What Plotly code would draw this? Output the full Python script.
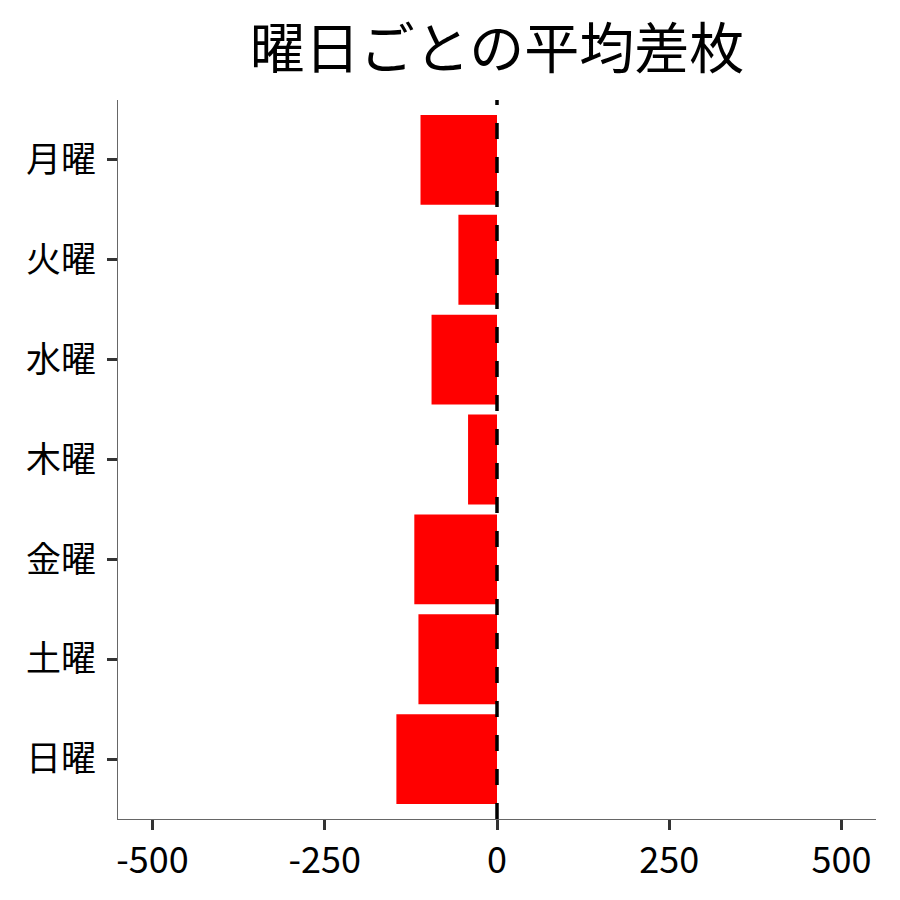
import plotly.graph_objects as go

# 曜日ごとの平均差枚
days = ['月曜', '火曜', '水曜', '木曜', '金曜', '土曜', '日曜']
avg_diff = [-111, -56, -95, -42, -120, -114, -146]
x_ticks = [-500, -250, 0, 250, 500]

font_family = 'Noto Sans CJK JP'

fig = go.Figure()
fig.add_trace(go.Bar(
    x=avg_diff,
    y=days,
    orientation='h',
    width=0.9,
    marker=dict(color='#ff0000', line=dict(width=0)),
    showlegend=False,
))

# zero reference line
fig.add_vline(x=0, line=dict(color='black', width=3.5, dash='16px,18px'))

# page body has an 8px margin, so the margins are shifted to compensate
fig.update_layout(
    width=900, height=900,
    plot_bgcolor='white', paper_bgcolor='white',
    margin=dict(l=110, r=32, t=92, b=89),
    font=dict(family=font_family, color='black'),
    title=dict(text='曜日ごとの平均差枚', x=0.5, xref='paper', xanchor='center',
               y=0.955, yref='container', yanchor='middle',
               font=dict(size=55, family=font_family, color='black')),
    bargap=0.1,
)
fig.update_xaxes(
    range=[-550, 550], tickvals=x_ticks, ticktext=[str(v) for v in x_ticks],
    showgrid=False, zeroline=False,
    showline=True, linecolor='#666666', linewidth=1.2,
    ticks='outside', ticklen=10, tickwidth=3, tickcolor='#333333',
    tickfont=dict(size=36, family=font_family, color='black'),
)
fig.update_yaxes(
    categoryorder='array', categoryarray=days, autorange=False, range=[6.6, -0.6],
    showgrid=False, zeroline=False,
    showline=True, linecolor='#666666', linewidth=1.2,
    ticks='outside', ticklen=10, tickwidth=3, tickcolor='#333333',
    ticklabelstandoff=4,
    tickfont=dict(size=35, family=font_family, color='black'),
)

fig.write_html('out.html')
